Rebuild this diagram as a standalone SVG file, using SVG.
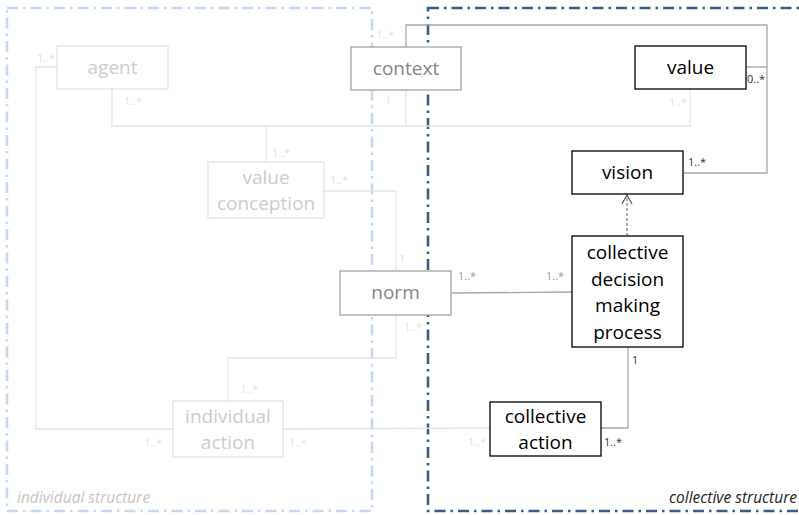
<svg xmlns="http://www.w3.org/2000/svg" width="799" height="515" viewBox="0 0 799 515">
<style>
text{font-family:"Open Sans","Liberation Sans",sans-serif}
.nt{font-size:19px;text-anchor:middle}
.m{font-size:11px}
.faint rect{fill:#fff;stroke:#e2e2e2;stroke-width:1.3}
.faint text{fill:#cdcdcd}
.mid rect{fill:#fff;stroke:#a3a3a3;stroke-width:1.3}
.mid text{fill:#868686}
.dark rect{fill:#fff;stroke:#000;stroke-width:1.3}
.dark text{fill:#000}
.lf{fill:none;stroke:#e5e5e5;stroke-width:1.3}
.lm{fill:none;stroke:#a8a8a8;stroke-width:1.3}
.ml{fill:#e2e2e2}
.mm{fill:#9a9a9a}
.md{fill:#333}
.bord{fill:none;stroke-width:2.6;stroke-dasharray:11 5 2.5 5}
</style>
<defs>
<marker id="open" markerWidth="12" markerHeight="12" refX="11" refY="6" orient="auto" markerUnits="userSpaceOnUse" viewBox="0 0 12 12">
<path d="M2,1 L11,6 L2,11" fill="none" stroke="#555" stroke-width="1.2"/>
</marker>
</defs>
<g id="structures">
<rect class="bord" x="7" y="8" width="365" height="503" stroke="#c6d9f0"/>
<rect class="bord" x="428" y="8" width="380" height="503" stroke="#385d8a"/>
<text x="17" y="503" font-size="15.5" font-style="italic" fill="#c6c6c6">individual structure</text>
<text x="797" y="503" font-size="15.5" font-style="italic" fill="#222" text-anchor="end">collective structure</text>
</g>
<g id="connectors">
<polyline class="lf" points="57,67 36,67 36,429 173,429"/>
<polyline class="lf" points="112,89 112,126 690,126 690,89"/>
<line class="lf" x1="406" y1="90" x2="406" y2="126"/>
<line class="lf" x1="266" y1="126" x2="266" y2="162"/>
<polyline class="lf" points="324,191 396,191 396,271"/>
<polyline class="lf" points="396,315 396,358 228,358 228,401"/>
<line class="lf" x1="283" y1="429" x2="490" y2="428"/>
<polyline class="lm" points="406,47 406,25 767,25 767,173 683,173"/>
<line class="lm" x1="746" y1="67" x2="767" y2="67"/>
<line class="lm" x1="451" y1="293" x2="572" y2="292"/>
<polyline class="lm" points="628,347 628,428 601,428"/>
<line x1="627" y1="236" x2="627" y2="195" stroke="#777" stroke-width="1.2" stroke-dasharray="3 2" marker-end="url(#open)"/>
<text class="m ml" x="37" y="62">1..*</text>
<text class="m ml" x="124" y="105">1..*</text>
<text class="m ml" x="376" y="39">1..*</text>
<text class="m ml" x="385" y="105">1</text>
<text class="m ml" x="669" y="106">1..*</text>
<text class="m ml" x="272" y="157">1..*</text>
<text class="m ml" x="330" y="184">1..*</text>
<text class="m ml" x="399" y="262">1</text>
<text class="m ml" x="404" y="331">1..*</text>
<text class="m ml" x="240" y="393">1..*</text>
<text class="m ml" x="144" y="447">1..*</text>
<text class="m ml" x="289" y="447">1..*</text>
<text class="m ml" x="468" y="446">1..*</text>
<text class="m mm" x="458" y="280">1..*</text>
<text class="m mm" x="546" y="280">1..*</text>
<text class="m md" x="747" y="83">0..*</text>
<text class="m md" x="688" y="166">1..*</text>
<text class="m md" x="632" y="364">1</text>
<text class="m md" x="604" y="446">1..*</text>
</g>
<g id="agent" class="faint"><rect x="57" y="46" width="111" height="43"/><text class="nt" x="112.5" y="74">agent</text></g>
<g id="context" class="mid"><rect x="351" y="47" width="110" height="43"/><text class="nt" x="406" y="75">context</text></g>
<g id="value" class="dark"><rect x="635" y="46" width="111" height="43"/><text class="nt" x="690.5" y="74">value</text></g>
<g id="vision" class="dark"><rect x="572" y="151" width="111" height="43"/><text class="nt" x="627.5" y="179">vision</text></g>
<g id="value-conception" class="faint"><rect x="208" y="162" width="116" height="56"/><text class="nt" x="266" y="184">value</text><text class="nt" x="266" y="210">conception</text></g>
<g id="norm" class="mid"><rect x="340" y="271" width="111" height="44"/><text class="nt" x="395.5" y="299">norm</text></g>
<g id="collective-decision-making-process" class="dark"><rect x="572" y="236" width="111" height="111"/><text class="nt" x="627.5" y="259">collective</text><text class="nt" x="627.5" y="286">decision</text><text class="nt" x="627.5" y="312">making</text><text class="nt" x="627.5" y="339">process</text></g>
<g id="individual-action" class="faint"><rect x="173" y="401" width="110" height="56"/><text class="nt" x="228" y="423">individual</text><text class="nt" x="228" y="449">action</text></g>
<g id="collective-action" class="dark"><rect x="490" y="402" width="111" height="54"/><text class="nt" x="545.5" y="423">collective</text><text class="nt" x="545.5" y="449">action</text></g>
</svg>
